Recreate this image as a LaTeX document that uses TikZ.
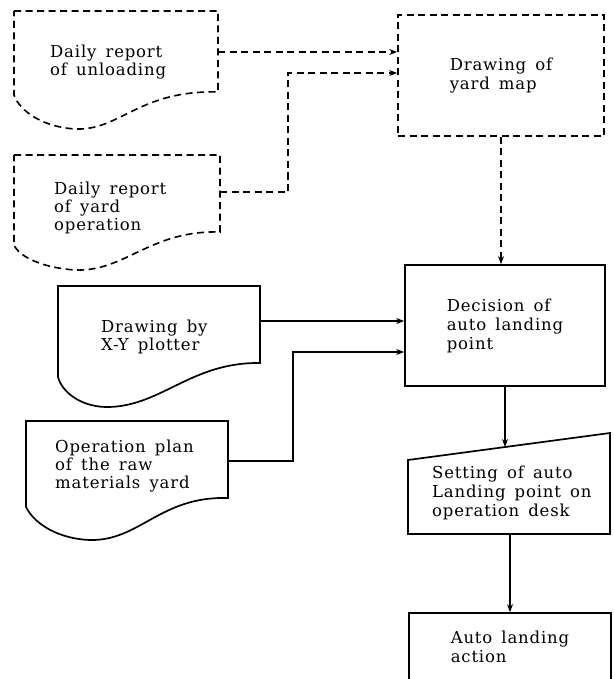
\documentclass[tikz,border=0pt]{standalone}
\usepackage{fontspec}
\setmainfont[LetterSpace=5,WordSpace=1.5]{DejaVu Serif}
\usetikzlibrary{arrows.meta}

\tikzset{
    txt/.style={anchor=north west, inner sep=0pt, align=left,
        font=\fontsize{16.5}{18}\selectfont},
    box/.style={line width=1.7pt, inner sep=0pt, align=left,
        font=\fontsize{16.5}{19}\selectfont},
    sline/.style={line width=1.7pt},
    dline/.style={line width=1.6pt, dash pattern=on 7pt off 4.5pt},
    flow/.style={-{Stealth[length=8pt,width=6pt]}}
}

\begin{document}
\begin{tikzpicture}[x=1pt,y=-1pt]
    \useasboundingbox (0,0) rectangle (613,679);
    \clip (0,0) rectangle (613,679);

    % Daily report of unloading
    \draw[dline] (14,11) -- (218,11) -- (218,92)
        .. controls (140,90) and (120,130) .. (77,129)
        .. controls (45,128) and (20,112) .. (14,95) -- cycle;
    \node[txt] (unload) at (50,45) {Daily report\\of unloading};
    \coordinate (unloadR) at (218,52);

    % Daily report of yard operation
    \draw[dline] (14,155) -- (220,155) -- (220,232)
        .. controls (150,230) and (125,272) .. (75,270)
        .. controls (45,268) and (20,258) .. (14,245) -- cycle;
    \node[txt] (yardop) at (54,182) {Daily report\\of yard\\operation};
    \coordinate (yardopR) at (220,192);

    % Drawing by X-Y plotter
    \draw[sline] (58,286) -- (260,286) -- (260,363)
        .. controls (190,362) and (160,408) .. (105,407)
        .. controls (80,406) and (62,392) .. (58,377) -- cycle;
    \node[txt] (plotter) at (101,320) {Drawing by\\X-Y plotter};
    \coordinate (plotterR) at (260,321);

    % Operation plan
    \draw[sline] (26,421) -- (228,421) -- (228,498)
        .. controls (160,496) and (140,541) .. (90,540)
        .. controls (60,539) and (35,525) .. (26,507) -- cycle;
    \node[txt] (plan) at (55,440) {Operation plan\\of the raw\\materials yard};
    \coordinate (planR) at (228,461);

    % boxes on the right
    \node[box, draw, dash pattern=on 7pt off 4.5pt, minimum width=206pt, minimum height=121pt]
        (yard) at (501,75.5) {Drawing of\\yard map};
    \node[box, draw, minimum width=200pt, minimum height=121pt]
        (decision) at (505,325.5) {Decision of\\auto landing\\point};
    \node[box, draw, minimum width=202pt, minimum height=67pt]
        (action) at (510,646.5) {Auto landing\\action};

    % Setting on operation desk (manual input)
    \draw[sline] (408,460) -- (610,433) -- (610,534) -- (408,534) -- cycle;
    \node[txt, font=\fontsize{16.5}{19}\selectfont] (setting) at (432,466)
        {Setting of auto\\Landing point on\\operation desk};
    \coordinate (setT) at (505,447);
    \coordinate (setB) at (510,534);

    % connectors
    \draw[dline,flow] (unloadR) -- (unloadR -| yard.west);
    \draw[dline,flow] (yardopR) -- ++(68,0) |- ([yshift=2.5pt]yard.west);
    \draw[dline,flow] (yard.south) -- (yard.south |- decision.north);
    \draw[sline,flow] (plotterR) -- (plotterR -| decision.west);
    \draw[sline,flow] (planR) -- ++(65,0) |- ([yshift=-26.5pt]decision.west);
    \draw[sline,flow] (decision.south) -- (setT);
    \draw[sline,flow] (setB) -- (action.north);
\end{tikzpicture}
\end{document}
